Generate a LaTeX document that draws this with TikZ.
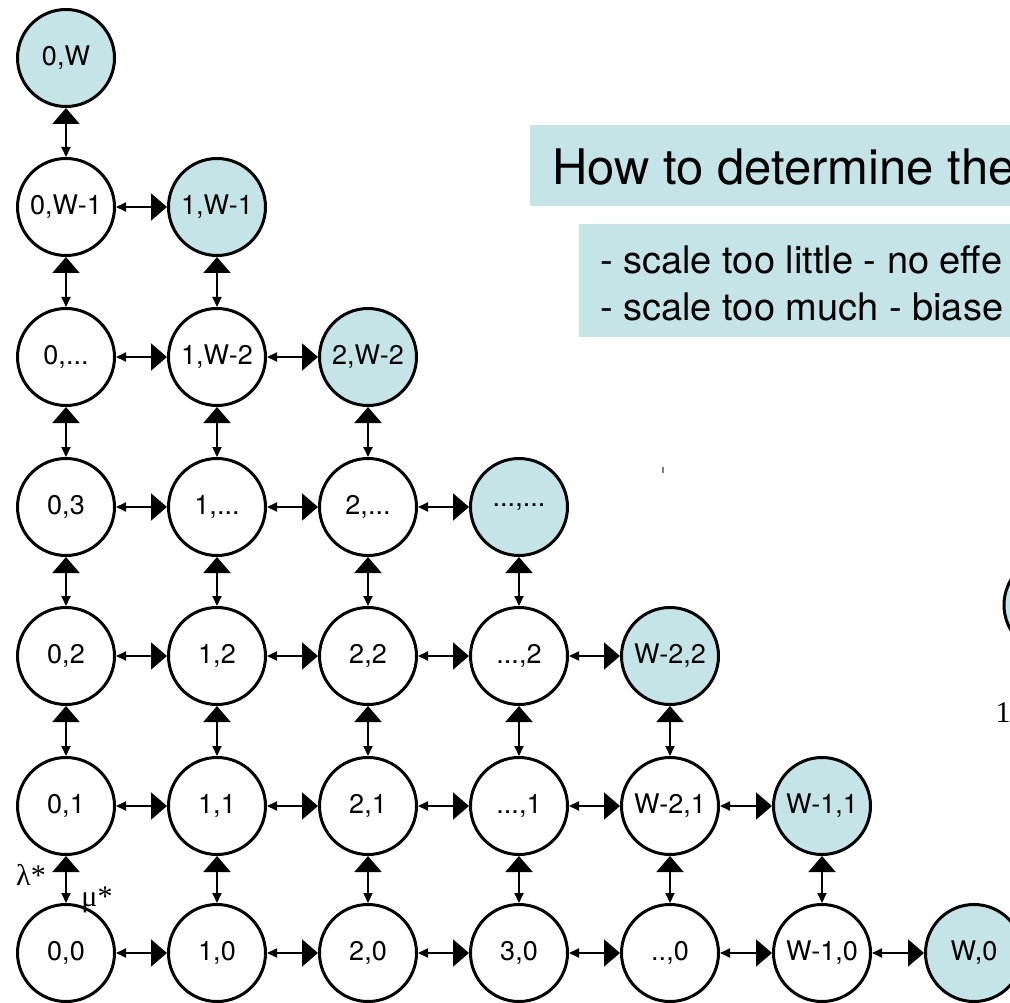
\documentclass[tikz,border=0pt]{standalone}
\usepackage{fontspec}
\setmainfont{TeX Gyre Heros}
\newfontfamily\serifface{Liberation Serif}
\usetikzlibrary{arrows.meta}
\definecolor{statefill}{RGB}{196,228,231}

\begin{document}
\begin{tikzpicture}[x=1pt, y=-1pt,
    state/.style={circle, draw, line width=3pt, minimum size=97pt, inner sep=0pt,
        font=\fontsize{27}{32}\selectfont},
    full/.style={state, fill=statefill},
    link/.style={line width=2pt, {Triangle[width=9pt,length=10pt]}-{Triangle[width=27pt,length=16pt]}},
    rate/.style={font=\serifface\fontsize{30}{36}\selectfont, inner sep=0pt}]

    % Page frame
    \useasboundingbox (0,0) rectangle (1010,1003);
    \clip (0,0) rectangle (1010,1003);

    % Heading boxes
    \fill[statefill] (530,125) rectangle (1040,206);
    \fill[statefill] (579,224) rectangle (1040,337);
    \node[anchor=base west, inner sep=0pt, font=\fontsize{49}{59}\selectfont] (title) at (552,185) {How to determine the};
    \node[anchor=base west, inner sep=0pt, font=\fontsize{38}{46}\selectfont] (item1) at (600,273) {- scale too little - no effe};
    \node[anchor=base west, inner sep=0pt, font=\fontsize{38}{46}\selectfont] (item2) at (600,320) {- scale too much - biase};

    % Row 0
    \node[state] (s00) at (66,953) {0,0};
    \node[state] (s10) at (217,953) {1,0};
    \node[state] (s20) at (368,953) {2,0};
    \node[state] (s30) at (519,953) {3,0};
    \node[state] (s40) at (670,953) {..,0};
    \node[state] (s50) at (822,953) {W-1,0};
    \node[full] (s60) at (974,953) {W,0};

    % Row 1
    \node[state] (s01) at (66,806) {0,1};
    \node[state] (s11) at (217,806) {1,1};
    \node[state] (s21) at (368,806) {2,1};
    \node[state] (s31) at (519,806) {...,1};
    \node[state] (s41) at (670,806) {W-2,1};
    \node[full] (s51) at (822,806) {W-1,1};

    % Row 2
    \node[state] (s02) at (66,656) {0,2};
    \node[state] (s12) at (217,656) {1,2};
    \node[state] (s22) at (368,656) {2,2};
    \node[state] (s32) at (519,656) {...,2};
    \node[full] (s42) at (670,656) {W-2,2};

    % Row 3
    \node[state] (s03) at (66,507) {0,3};
    \node[state] (s13) at (217,507) {1,...};
    \node[state] (s23) at (368,507) {2,...};
    \node[full] (s33) at (519,507) {...,...};

    % Row 4
    \node[state] (s04) at (66,357) {0,...};
    \node[state] (s14) at (217,357) {1,W-2};
    \node[full] (s24) at (368,357) {2,W-2};

    % Row 5 and 6
    \node[state] (s05) at (66,207) {0,W-1};
    \node[full] (s15) at (217,207) {1,W-1};
    \node[full] (s06) at (66,58) {0,W};

    % Horizontal links
    \draw[link] (s00) -- (s10);
    \draw[link] (s10) -- (s20);
    \draw[link] (s20) -- (s30);
    \draw[link] (s30) -- (s40);
    \draw[link] (s40) -- (s50);
    \draw[link] (s50) -- (s60);
    \draw[link] (s01) -- (s11);
    \draw[link] (s11) -- (s21);
    \draw[link] (s21) -- (s31);
    \draw[link] (s31) -- (s41);
    \draw[link] (s41) -- (s51);
    \draw[link] (s02) -- (s12);
    \draw[link] (s12) -- (s22);
    \draw[link] (s22) -- (s32);
    \draw[link] (s32) -- (s42);
    \draw[link] (s03) -- (s13);
    \draw[link] (s13) -- (s23);
    \draw[link] (s23) -- (s33);
    \draw[link] (s04) -- (s14);
    \draw[link] (s14) -- (s24);
    \draw[link] (s05) -- (s15);

    % Vertical links
    \draw[link] (s00) -- (s01);
    \draw[link] (s01) -- (s02);
    \draw[link] (s02) -- (s03);
    \draw[link] (s03) -- (s04);
    \draw[link] (s04) -- (s05);
    \draw[link] (s05) -- (s06);
    \draw[link] (s10) -- (s11);
    \draw[link] (s11) -- (s12);
    \draw[link] (s12) -- (s13);
    \draw[link] (s13) -- (s14);
    \draw[link] (s14) -- (s15);
    \draw[link] (s20) -- (s21);
    \draw[link] (s21) -- (s22);
    \draw[link] (s22) -- (s23);
    \draw[link] (s23) -- (s24);
    \draw[link] (s30) -- (s31);
    \draw[link] (s31) -- (s32);
    \draw[link] (s32) -- (s33);
    \draw[link] (s40) -- (s41);
    \draw[link] (s41) -- (s42);
    \draw[link] (s50) -- (s51);

    % Rates
    \node[rate] (lambda) at (31,875) {λ*};
    \node[rate] (mu) at (97,900) {μ*};

    % Bits at the right edge
    \draw[line width=3pt, fill=statefill] (1053,605) circle (49);
    \node[rate] (one) at (1003,713) {1};
    \fill[gray] (662,467) rectangle (664,473);
\end{tikzpicture}
\end{document}
